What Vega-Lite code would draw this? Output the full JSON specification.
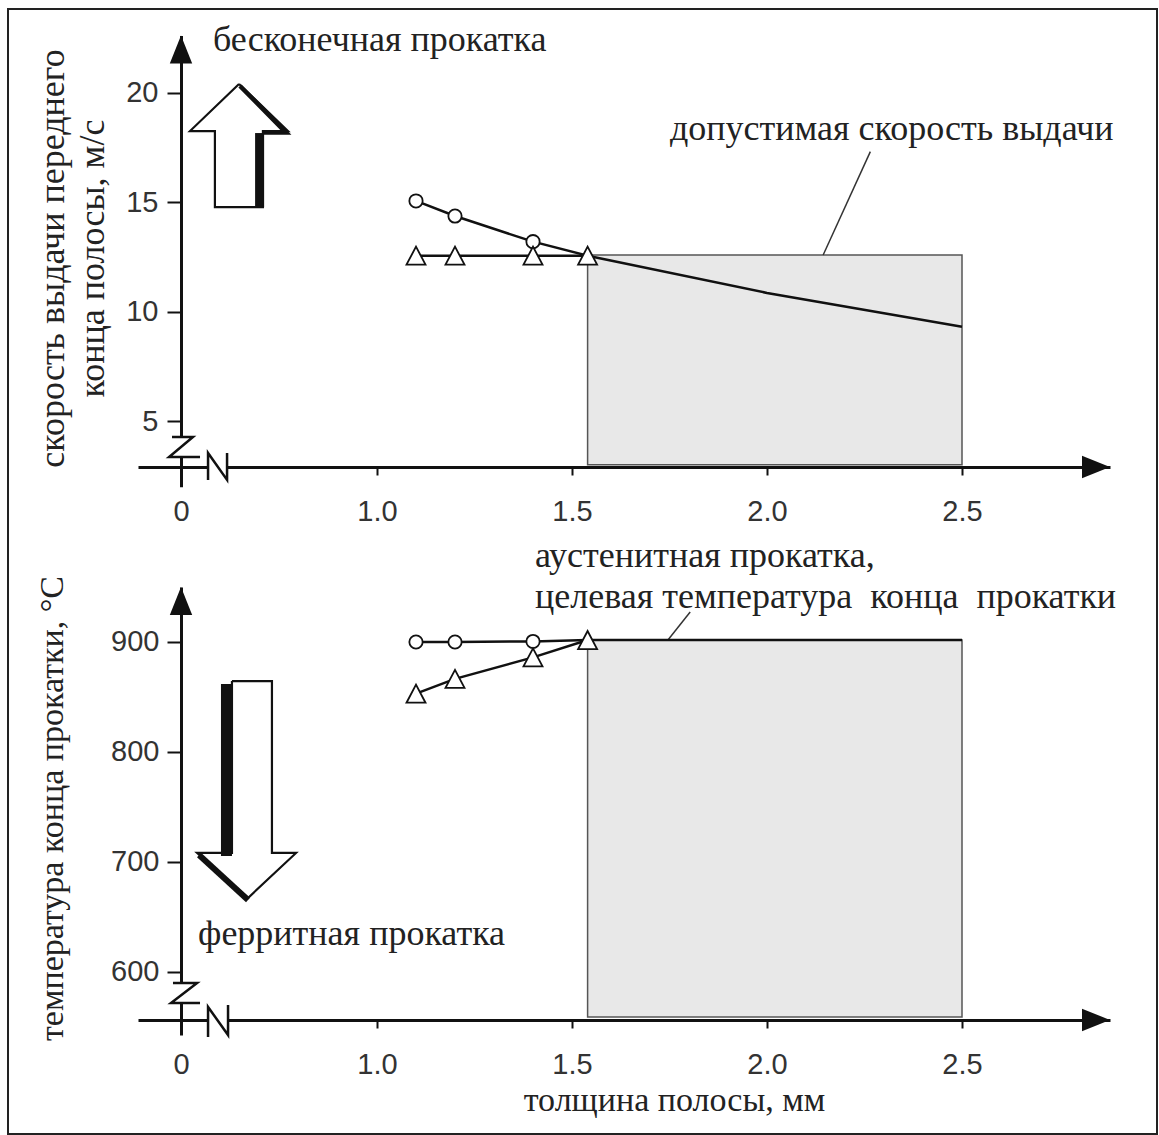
{
  "$schema": "https://vega.github.io/schema/vega-lite/v6.json",
  "width": 1149,
  "height": 1125,
  "padding": {"left": 8, "top": 9, "right": 2, "bottom": 1},
  "autosize": {"type": "none"},
  "background": "white",
  "config": {
    "view": {"stroke": "#222", "strokeWidth": 2},
    "axis": {
      "grid": false,
      "domainColor": "#111",
      "domainWidth": 3,
      "tickColor": "#111",
      "tickWidth": 2,
      "labelColor": "#333",
      "labelFont": "Liberation Sans",
      "labelFontSize": 29,
      "labelFlush": false,
      "labelOverlap": false,
      "titleFont": "Liberation Serif",
      "titleFontSize": 36,
      "titleFontWeight": "normal",
      "titleColor": "#222",
      "zindex": 0
    }
  },
  "datasets": {
    "tRect": [{"x": 1.54, "x2": 2.5, "y": 12.58, "y2": 3.0}],
    "tLead": [{"x": 2.144, "y": 12.58, "i": 0}, {"x": 2.265, "y": 17.3, "i": 1}],
    "tEraseV": [{"x": 0, "y": 4.27, "y2": 3.36}],
    "tEraseH": [{"x": 0.138, "x2": 0.235, "y": 2.9}],
    "tZ": [{"x": -0.046, "y": 4.27, "i": 0}, {"x": 0.061, "y": 4.27, "i": 1}, {"x": -0.061, "y": 3.36, "i": 2}, {"x": 0.097, "y": 3.36, "i": 3}],
    "tN": [{"x": 0.138, "y": 2.31, "i": 0}, {"x": 0.138, "y": 3.54, "i": 1}, {"x": 0.235, "y": 2.31, "i": 2}, {"x": 0.235, "y": 3.54, "i": 3}],
    "tTri": [{"x": 1.1, "y": 12.55}, {"x": 1.2, "y": 12.55}, {"x": 1.4, "y": 12.55}, {"x": 1.54, "y": 12.55}],
    "tCircLine": [{"x": 1.1, "y": 15.05}, {"x": 1.2, "y": 14.36}, {"x": 1.4, "y": 13.19}, {"x": 1.54, "y": 12.55}, {"x": 2.0, "y": 10.85}, {"x": 2.5, "y": 9.3}],
    "tCirc": [{"x": 1.1, "y": 15.05}, {"x": 1.2, "y": 14.36}, {"x": 1.4, "y": 13.19}],
    "tArrowUp": [{"x": 0, "y": 21.96}],
    "tArrowRight": [{"x": 2.844, "y": 2.9}],
    "tBlock": [
      {"x": 0.296, "y": 20.39, "i": 0}, {"x": 0.546, "y": 18.24, "i": 1}, {"x": 0.418, "y": 18.24, "i": 2},
      {"x": 0.418, "y": 14.77, "i": 3}, {"x": 0.173, "y": 14.77, "i": 4}, {"x": 0.173, "y": 18.24, "i": 5},
      {"x": 0.046, "y": 18.24, "i": 6}, {"x": 0.296, "y": 20.39, "i": 7}
    ],
    "tShadowShaft": [{"x": 0.401, "y": 18.15, "i": 0}, {"x": 0.401, "y": 14.77, "i": 1}],
    "tShadowHead": [{"x": 0.301, "y": 20.3, "i": 0}, {"x": 0.536, "y": 18.17, "i": 1}, {"x": 0.418, "y": 18.17, "i": 2}],
    "tText": [{"x": 0.163, "y": 21.89, "t": "бесконечная прокатка"}, {"x": 1.751, "y": 17.83, "t": "допустимая скорость выдачи"}],

    "bRect": [{"x": 1.54, "x2": 2.5, "y": 901.8, "y2": 559}],
    "bLead": [{"x": 1.746, "y": 901.8, "i": 0}, {"x": 1.803, "y": 927.3, "i": 1}],
    "bEraseV": [{"x": 0, "y": 590, "y2": 571.8}],
    "bEraseH": [{"x": 0.138, "x2": 0.24, "y": 556.4}],
    "bZ": [{"x": -0.041, "y": 590, "i": 0}, {"x": 0.082, "y": 590, "i": 1}, {"x": -0.051, "y": 571.8, "i": 2}, {"x": 0.097, "y": 571.8, "i": 3}],
    "bN": [{"x": 0.138, "y": 540.9, "i": 0}, {"x": 0.138, "y": 568.2, "i": 1}, {"x": 0.24, "y": 542.7, "i": 2}, {"x": 0.24, "y": 570, "i": 3}],
    "bTri": [{"x": 1.1, "y": 853}, {"x": 1.2, "y": 866.5}, {"x": 1.4, "y": 886}, {"x": 1.54, "y": 901.8}],
    "bCircLine": [{"x": 1.1, "y": 900}, {"x": 1.2, "y": 900}, {"x": 1.4, "y": 900.5}, {"x": 1.54, "y": 901.8}, {"x": 2.5, "y": 901.8}],
    "bCirc": [{"x": 1.1, "y": 900}, {"x": 1.2, "y": 900}, {"x": 1.4, "y": 900.5}],
    "bArrowUp": [{"x": 0, "y": 937.3}],
    "bArrowRight": [{"x": 2.844, "y": 556.4}],
    "bBlock": [
      {"x": 0.26, "y": 864.5, "i": 0}, {"x": 0.464, "y": 864.5, "i": 1}, {"x": 0.464, "y": 708.2, "i": 2},
      {"x": 0.587, "y": 708.2, "i": 3}, {"x": 0.342, "y": 667.3, "i": 4}, {"x": 0.082, "y": 708.2, "i": 5},
      {"x": 0.26, "y": 708.2, "i": 6}, {"x": 0.26, "y": 864.5, "i": 7}
    ],
    "bShadowShaft": [{"x": 0.232, "y": 861.8, "i": 0}, {"x": 0.232, "y": 705.5, "i": 1}],
    "bShadowHead": [{"x": 0.092, "y": 706.4, "i": 0}, {"x": 0.342, "y": 665.5, "i": 1}],
    "bText": [
      {"x": 1.405, "y": 968.2, "t": "аустенитная прокатка,"},
      {"x": 1.405, "y": 930.9, "t": "целевая температура \u00a0конца \u00a0прокатки"},
      {"x": 0.087, "y": 624.5, "t": "ферритная прокатка"}
    ]
  },
  "resolve": {"scale": {"x": "independent", "y": "independent"}, "axis": {"x": "independent", "y": "independent"}},
  "layer": [
    {
      "encoding": {
        "x": {
          "field": "x", "type": "quantitative",
          "scale": {"domain": [-0.22, 0, 1, 2.5, 2.88], "range": [130, 173, 369, 954, 1102], "zero": false, "nice": false},
          "axis": {
            "orient": "bottom", "offset": -667, "title": null,
            "values": [0, 1, 1.5, 2, 2.5], "tickSize": 8, "labelPadding": 22,
            "labelExpr": "datum.value === 0 ? '0' : format(datum.value, '.1f')"
          }
        },
        "y": {
          "field": "y", "type": "quantitative",
          "scale": {"domain": [2.0, 22.6], "range": [477.7, 26.6], "zero": false, "nice": false},
          "axis": {
            "orient": "left", "offset": -173, "values": [5, 10, 15, 20], "tickSize": 14, "labelPadding": 9,
            "title": ["скорость выдачи переднего", "конца полосы, м/с"],
            "titleAngle": -90, "titleX": -129, "titleY": 249, "titleBaseline": "middle", "titleAlign": "center", "titleLineHeight": 40
          }
        }
      },
      "layer": [
        {"data": {"name": "tRect"}, "mark": {"type": "rect", "fill": "#e8e8e8", "stroke": "#555", "strokeWidth": 1.5}, "encoding": {"x2": {"field": "x2"}, "y2": {"field": "y2"}}},
        {"data": {"name": "tLead"}, "mark": {"type": "line", "color": "#333", "strokeWidth": 1.5}, "encoding": {"order": {"field": "i"}}},
        {"data": {"name": "tEraseV"}, "mark": {"type": "rule", "color": "white", "strokeWidth": 7, "strokeCap": "butt"}, "encoding": {"y2": {"field": "y2"}}},
        {"data": {"name": "tEraseH"}, "mark": {"type": "rule", "color": "white", "strokeWidth": 7, "strokeCap": "butt"}, "encoding": {"x2": {"field": "x2"}}},
        {"data": {"name": "tZ"}, "mark": {"type": "line", "color": "#111", "strokeWidth": 2.5}, "encoding": {"order": {"field": "i"}}},
        {"data": {"name": "tN"}, "mark": {"type": "line", "color": "#111", "strokeWidth": 2.5}, "encoding": {"order": {"field": "i"}}},
        {"data": {"name": "tTri"}, "mark": {"type": "line", "color": "#111", "strokeWidth": 2.5}, "encoding": {}},
        {"data": {"name": "tCircLine"}, "mark": {"type": "line", "color": "#111", "strokeWidth": 2.5}, "encoding": {}},
        {"data": {"name": "tCirc"}, "mark": {"type": "point", "shape": "circle", "filled": true, "fill": "white", "stroke": "#111", "strokeWidth": 1.8, "size": 177, "opacity": 1}},
        {"data": {"name": "tTri"}, "mark": {"type": "point", "shape": "M0,-0.95L-1,0.95L1,0.95Z", "filled": true, "fill": "white", "stroke": "#111", "strokeWidth": 1.8, "size": 361, "opacity": 1}},
        {"data": {"name": "tArrowUp"}, "mark": {"type": "point", "shape": "M0,-1L-0.8,1L0.8,1Z", "filled": true, "fill": "#111", "size": 784, "opacity": 1}},
        {"data": {"name": "tArrowRight"}, "mark": {"type": "point", "shape": "M1,0L-1,-0.8L-1,0.8Z", "filled": true, "fill": "#111", "size": 784, "opacity": 1}},
        {"data": {"name": "tShadowShaft"}, "mark": {"type": "line", "color": "#111", "strokeWidth": 9, "strokeCap": "butt"}, "encoding": {"order": {"field": "i"}}},
        {"data": {"name": "tShadowHead"}, "mark": {"type": "line", "color": "#111", "strokeWidth": 4.5, "strokeCap": "butt"}, "encoding": {"order": {"field": "i"}}},
        {"data": {"name": "tBlock"}, "mark": {"type": "line", "color": "#111", "strokeWidth": 2.2, "strokeJoin": "miter"}, "encoding": {"order": {"field": "i"}}},
        {"data": {"name": "tText"}, "mark": {"type": "text", "font": "Liberation Serif", "fontSize": 36, "align": "left", "baseline": "alphabetic", "color": "#222"}, "encoding": {"text": {"field": "t"}}}
      ]
    },
    {
      "encoding": {
        "x": {
          "field": "x", "type": "quantitative",
          "scale": {"domain": [-0.22, 0, 1, 2.5, 2.88], "range": [130, 173, 369, 954, 1102], "zero": false, "nice": false},
          "axis": {
            "orient": "bottom", "offset": -114,
            "values": [0, 1, 1.5, 2, 2.5], "tickSize": 8, "labelPadding": 22,
            "labelExpr": "datum.value === 0 ? '0' : format(datum.value, '.1f')",
            "title": "толщина полосы, мм", "titleFontSize": 34, "titleX": 666, "titleY": 90, "titleBaseline": "alphabetic", "titleAlign": "center", "titleAngle": 0
          }
        },
        "y": {
          "field": "y", "type": "quantitative",
          "scale": {"domain": [542.7, 950], "range": [1026, 578], "zero": false, "nice": false},
          "axis": {
            "orient": "left", "offset": -173, "values": [600, 700, 800, 900], "tickSize": 14, "labelPadding": 8,
            "title": "температура конца прокатки, °C", "titleFontSize": 34,
            "titleAngle": -90, "titleX": -129, "titleY": 799, "titleBaseline": "middle", "titleAlign": "center"
          }
        }
      },
      "layer": [
        {"data": {"name": "bRect"}, "mark": {"type": "rect", "fill": "#e8e8e8", "stroke": "#555", "strokeWidth": 1.5}, "encoding": {"x2": {"field": "x2"}, "y2": {"field": "y2"}}},
        {"data": {"name": "bLead"}, "mark": {"type": "line", "color": "#333", "strokeWidth": 1.5}, "encoding": {"order": {"field": "i"}}},
        {"data": {"name": "bEraseV"}, "mark": {"type": "rule", "color": "white", "strokeWidth": 7, "strokeCap": "butt"}, "encoding": {"y2": {"field": "y2"}}},
        {"data": {"name": "bEraseH"}, "mark": {"type": "rule", "color": "white", "strokeWidth": 7, "strokeCap": "butt"}, "encoding": {"x2": {"field": "x2"}}},
        {"data": {"name": "bZ"}, "mark": {"type": "line", "color": "#111", "strokeWidth": 2.5}, "encoding": {"order": {"field": "i"}}},
        {"data": {"name": "bN"}, "mark": {"type": "line", "color": "#111", "strokeWidth": 2.5}, "encoding": {"order": {"field": "i"}}},
        {"data": {"name": "bTri"}, "mark": {"type": "line", "color": "#111", "strokeWidth": 2.5}, "encoding": {}},
        {"data": {"name": "bCircLine"}, "mark": {"type": "line", "color": "#111", "strokeWidth": 2.5}, "encoding": {}},
        {"data": {"name": "bCirc"}, "mark": {"type": "point", "shape": "circle", "filled": true, "fill": "white", "stroke": "#111", "strokeWidth": 1.8, "size": 177, "opacity": 1}},
        {"data": {"name": "bTri"}, "mark": {"type": "point", "shape": "M0,-0.95L-1,0.95L1,0.95Z", "filled": true, "fill": "white", "stroke": "#111", "strokeWidth": 1.8, "size": 361, "opacity": 1}},
        {"data": {"name": "bArrowUp"}, "mark": {"type": "point", "shape": "M0,-1L-0.8,1L0.8,1Z", "filled": true, "fill": "#111", "size": 784, "opacity": 1}},
        {"data": {"name": "bArrowRight"}, "mark": {"type": "point", "shape": "M1,0L-1,-0.8L-1,0.8Z", "filled": true, "fill": "#111", "size": 784, "opacity": 1}},
        {"data": {"name": "bShadowShaft"}, "mark": {"type": "line", "color": "#111", "strokeWidth": 11, "strokeCap": "butt"}, "encoding": {"order": {"field": "i"}}},
        {"data": {"name": "bShadowHead"}, "mark": {"type": "line", "color": "#111", "strokeWidth": 6, "strokeCap": "butt"}, "encoding": {"order": {"field": "i"}}},
        {"data": {"name": "bBlock"}, "mark": {"type": "line", "color": "#111", "strokeWidth": 2.2, "strokeJoin": "miter"}, "encoding": {"order": {"field": "i"}}},
        {"data": {"name": "bText"}, "mark": {"type": "text", "font": "Liberation Serif", "fontSize": 36, "align": "left", "baseline": "alphabetic", "color": "#222"}, "encoding": {"text": {"field": "t"}}}
      ]
    }
  ]
}
